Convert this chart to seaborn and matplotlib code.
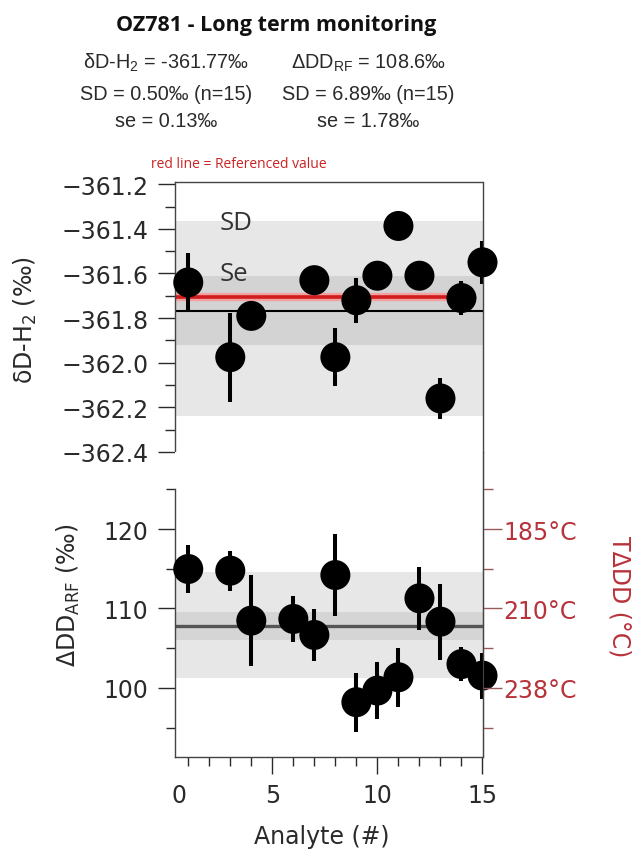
import numpy as np
import pandas as pd
import seaborn as sns
import matplotlib
matplotlib.use('Agg')
import matplotlib.pyplot as plt

# top panel: dD-H2 of each analyte (permil) with 1 sigma
top_x = [1, 3, 4, 7, 8, 9, 10, 11, 12, 13, 14, 15]
top_y = [-361.64, -361.975, -361.79, -361.63, -361.975, -361.72,
         -361.61, -361.387, -361.61, -362.16, -361.71, -361.55]
top_err = [0.134, 0.20, 0.04, 0.03, 0.13, 0.10, 0.03, 0.03, 0.06, 0.093, 0.075, 0.097]
top_mean = -361.77
top_ref = -361.704
top_sd_band = (-362.24, -361.365)
top_se_band = (-361.92, -361.613)

# bottom panel: DeltaDD_ARF of each analyte (permil)
bot_x = [1, 3, 4, 6, 7, 8, 9, 10, 11, 12, 13, 14, 15]
bot_y = [114.97, 114.76, 108.47, 108.68, 106.67, 114.21, 98.2, 99.66,
         101.34, 111.28, 108.34, 103.0, 101.55]
bot_err = [3.08, 2.5, 5.76, 2.9, 3.3, 5.2, 3.7, 3.6, 3.7, 4.0, 4.8, 2.1, 2.9]
bot_mean = 107.76
bot_sd_band = (101.22, 114.55)
bot_se_band = (106.08, 109.6)

# temperature equivalents on the right axis
temp_ticks = [120, 110, 100]
temp_labels = ['185°C', '210°C', '238°C']

top_df = pd.DataFrame({'x': top_x, 'y': top_y})
bot_df = pd.DataFrame({'x': bot_x, 'y': bot_y})

sns.set_style('ticks')
plt.rcParams['font.family'] = ['DejaVu Sans']
plt.rcParams['mathtext.fontset'] = 'dejavusans'

ink = '#2a2a2a'
red = '#b8323a'
W, H = 638, 854
fig = plt.figure(figsize=(W / 100, H / 100), dpi=100)

x0, x1 = 175, 482.5
ax_top = fig.add_axes([x0 / W, 1 - 453 / H, (x1 - x0) / W, 270 / H])
ax_bot = fig.add_axes([x0 / W, 1 - 758 / H, (x1 - x0) / W, 305 / H])

xlim = (0.37, 15.0)
fs = 17

# ---- top panel
ax = ax_top
ax.axhspan(*top_sd_band, color='#e7e7e7', lw=0, zorder=0)
ax.axhspan(*top_se_band, color='#d3d3d3', lw=0, zorder=0.5)
ax.axhline(top_mean, color='black', lw=1.5, zorder=1)
ax.plot([xlim[0], 14.0], [top_ref, top_ref], color='#f2a0a0', lw=6, solid_capstyle='butt', zorder=1.5)
ax.plot([xlim[0], 14.0], [top_ref, top_ref], color='#d01c1c', lw=2.6, solid_capstyle='butt', zorder=1.6)
ax.errorbar(top_x, top_y, yerr=top_err, fmt='none', ecolor='black', elinewidth=2.9, capsize=0, zorder=2)
sns.scatterplot(data=top_df, x='x', y='y', ax=ax, color='black', s=467, edgecolor='none', zorder=3, clip_on=False)
ax.text(2.5, -361.37, 'SD', fontsize=18.5, color='#333333', family='Open Sans', va='center')
ax.text(2.5, -361.598, 'Se', fontsize=18.5, color='#333333', family='Open Sans', va='center')
ax.set_xlim(*xlim)
ax.set_ylim(-362.4, -361.19)
ax.set_yticks(np.arange(-362.4, -361.15, 0.2))
ax.set_yticklabels(['−362.4', '−362.2', '−362.0', '−361.8', '−361.6', '−361.4', '−361.2'])
ax.set_yticks(np.arange(-362.3, -361.2, 0.2), minor=True)
ax.set_xticks([])
ax.spines['bottom'].set_visible(False)
ax.set_xlabel('')
ax.set_ylabel('δD-H$_\\mathregular{2}$ (‰)', fontsize=fs, color=ink, va='center', ha='center')
ax.yaxis.set_label_coords(-0.488, 0.4926)
ax.tick_params(axis='y', which='major', length=12, width=1, labelsize=fs, pad=7, colors=ink)
ax.tick_params(axis='y', which='minor', length=7, width=1, colors=ink)
for s in ['left', 'right', 'top']:
    ax.spines[s].set_color('#444444')
    ax.spines[s].set_linewidth(1)

# ---- bottom panel
ax = ax_bot
ax.axhspan(*bot_sd_band, color='#e7e7e7', lw=0, zorder=0)
ax.axhspan(*bot_se_band, color='#d5d5d5', lw=0, zorder=0.5)
ax.axhline(bot_mean, color='#555555', lw=2.4, zorder=1)
ax.errorbar(bot_x, bot_y, yerr=bot_err, fmt='none', ecolor='black', elinewidth=2.9, capsize=0, zorder=2)
sns.scatterplot(data=bot_df, x='x', y='y', ax=ax, color='black', s=467, edgecolor='none', zorder=3, clip_on=False)
ax.set_xlim(*xlim)
ax.set_ylim(91.3, 129.7)
ax.set_yticks([100, 110, 120])
ax.set_yticks([95, 105, 115, 125], minor=True)
ax.spines['left'].set_bounds(91.3, 125)
ax.spines['top'].set_visible(False)
ax.set_xticks([0.56, 5, 10, 15])
ax.set_xticklabels(['0', '5', '10', '15'])
ax.set_xticks(range(1, 15), minor=True)
ax.xaxis.get_major_ticks()[0].tick1line.set_visible(False)
ax.set_xlabel('Analyte (#)', fontsize=fs, color=ink, va='center')
ax.xaxis.set_label_coords(0.477, -0.258)
ax.set_ylabel('ΔDD$_\\mathregular{ARF}$ (‰)', fontsize=fs, color=ink, va='center', ha='center')
ax.yaxis.set_label_coords(-0.348, 0.534)
ax.tick_params(axis='both', which='major', length=12, width=1, labelsize=fs, pad=7, colors=ink)
ax.tick_params(axis='both', which='minor', length=6.5, width=1, colors=ink)
for s in ['left', 'right', 'bottom']:
    ax.spines[s].set_color('#444444')
    ax.spines[s].set_linewidth(1)

# right temperature axis
ax2 = ax_bot.twinx()
ax2.set_ylim(ax_bot.get_ylim())
ax2.set_yticks(temp_ticks)
ax2.set_yticklabels(temp_labels)
ax2.set_yticks([95, 105, 115, 125], minor=True)
ax2.tick_params(axis='y', which='major', length=14, width=1, labelsize=fs, pad=1,
                colors='#9a5a5a', labelcolor=red)
ax2.tick_params(axis='y', which='minor', length=7, width=1, colors='#9a5a5a')
for s in ['left', 'top', 'bottom']:
    ax2.spines[s].set_visible(False)
ax2.spines['right'].set_color('#444444')
ax2.set_ylabel('TΔDD (°C)', fontsize=fs, color=red, rotation=-90, va='center', ha='center')
ax2.yaxis.set_label_coords(1.447, 0.528)

# ---- header texts
fig.text(276 / W, 1 - 25 / H, 'OZ781 - Long term monitoring', ha='center', va='center',
         fontsize=15.5, fontweight='bold', family='Open Sans', color='#111111')
left_lines = ['δD-H$_\\mathregular{2}$ = -361.77‰', 'SD = 0.50‰ (n=15)', 'se = 0.13‰']
right_lines = ['ΔDD$_\\mathregular{RF}$ = 108.6‰', 'SD = 6.89‰ (n=15)', 'se = 1.78‰']
for yy, tl, tr in zip([63, 95, 122], left_lines, right_lines):
    fig.text(166 / W, 1 - yy / H, tl, ha='center', va='center', fontsize=14.3,
             family=['Liberation Sans', 'DejaVu Sans'], color=ink)
    fig.text(368 / W, 1 - yy / H, tr, ha='center', va='center', fontsize=14.3,
             family=['Liberation Sans', 'DejaVu Sans'], color=ink)
fig.text(239 / W, 1 - 165 / H, 'red line = Referenced value', ha='center', va='center',
         fontsize=10, family='Open Sans', color='#cc2222')

fig.savefig('out.png', dpi=100)
